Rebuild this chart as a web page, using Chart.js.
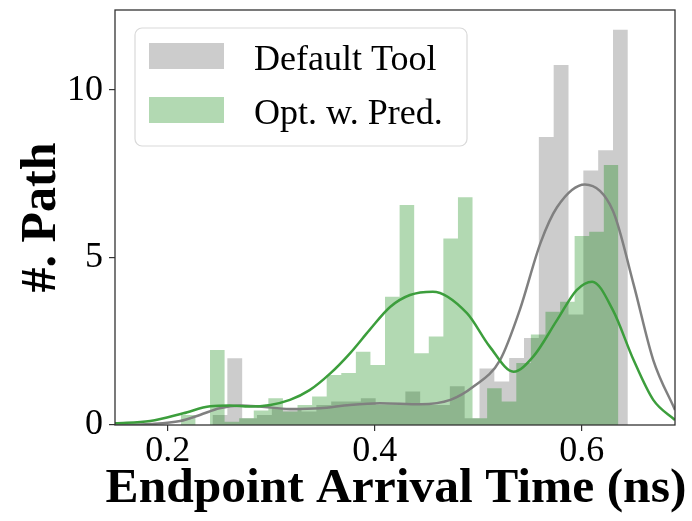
<!DOCTYPE html>
<html>
<head>
<meta charset="utf-8">
<script src="https://cdn.jsdelivr.net/npm/chart.js@4.4.1/dist/chart.umd.min.js"></script>
<style>
  html, body { margin: 0; padding: 0; background: #fff; }
  #wrap { width: 692px; height: 521px; }
</style>
</head>
<body>
<div id="wrap"><canvas id="chart" width="692" height="521"></canvas></div>
<script>
// histogram bins (ns) and bar heights
const defaultStart = 0.2432;
const defaultWidth = 0.01433;
const defaultHeights = [0.3, 1.99, 0.2, 0.3, 0.5, 0.5, 0.4, 0.6, 0.7, 0.7, 0.8, 0.6, 0.6, 1.0,
  0.6, 0.6, 1.16, 0.2, 1.69, 1.3, 2.0, 2.6, 8.6, 10.75, 3.3, 7.6, 8.2, 11.8];

const predStart = 0.2126;
const predWidth = 0.01409;
const predHeights = [0.3, 0, 2.24, 0.1, 0.2, 0.43, 0.8, 0.4, 0.6, 0.85, 1.49, 1.55, 2.19, 1.79, 3.83, 6.57,
  2.14, 2.64, 5.57, 6.8, 0.2, 1.1, 0.7, 1.85, 2.7, 3.38, 3.68, 5.64, 5.77, 7.76];

// kde curves
const defaultKdeX = [0.149, 0.183, 0.212, 0.231, 0.250, 0.270, 0.289, 0.318, 0.347, 0.376, 0.405,
  0.444, 0.473, 0.495, 0.521, 0.540, 0.560, 0.576, 0.603, 0.630, 0.650, 0.669, 0.690];
const defaultKdeY = [0.0, 0.03, 0.12, 0.3, 0.5, 0.58, 0.55, 0.48, 0.5, 0.6, 0.65,
  0.62, 0.75, 1.14, 1.94, 3.43, 5.43, 6.5, 7.18, 6.4, 4.2, 1.94, 0.45];

const predKdeX = [0.149, 0.183, 0.215, 0.241, 0.260, 0.279, 0.299, 0.318, 0.337, 0.357,
  0.376, 0.395, 0.415, 0.434, 0.456, 0.489, 0.511, 0.534, 0.553, 0.576, 0.595, 0.610, 0.630,
  0.650, 0.669, 0.690];
const predKdeY = [0.05, 0.12, 0.35, 0.56, 0.58, 0.55, 0.6, 0.75, 1.04, 1.54,
  2.14, 2.84, 3.53, 3.88, 3.98, 3.34, 2.34, 1.59, 2.04, 3.13, 4.03, 4.28, 3.43,
  1.94, 0.75, 0.15];

const xTicks = [0.2, 0.4, 0.6];
const yTicks = [0, 5, 10];
const seriesNames = ["Default Tool", "Opt. w. Pred."];
const xTitle = "Endpoint Arrival Time (ns)";
const yTitle = "#. Path";

const SERIF = "'Liberation Serif', 'Times New Roman', serif";

// turn bins into step points for a filled stepped line
function histPoints(start, width, heights) {
  const pts = [{ x: start, y: 0 }];
  heights.forEach((h, i) => pts.push({ x: start + (i + 1) * width, y: h }));
  return pts;
}

function curvePoints(xs, ys) {
  return xs.map((x, i) => ({ x: x, y: ys[i] }));
}

const frameAndLegend = {
  id: "frameAndLegend",
  afterDatasetsDraw(chart) {
    const a = chart.chartArea;
    const ctx = chart.ctx;
    ctx.save();
    ctx.strokeStyle = "#333";
    ctx.lineWidth = 1.3;
    ctx.strokeRect(a.left, a.top, a.right - a.left, a.bottom - a.top);
    ctx.restore();
  },
  afterDraw(chart) {
    const ctx = chart.ctx;
    const a = chart.chartArea;
    ctx.save();
    // x title, wider than the plot so drawn here instead of by the scale
    ctx.font = "bold 49.5px " + SERIF;
    ctx.fillStyle = "#000";
    ctx.textAlign = "center";
    ctx.textBaseline = "alphabetic";
    ctx.fillText(xTitle, (a.left + a.right) / 2 + 1, 502);

    // legend frame
    const bx = 135, by = 28, bw = 332, bh = 118, r = 7;
    ctx.beginPath();
    ctx.roundRect(bx, by, bw, bh, r);
    ctx.fillStyle = "rgba(255,255,255,0.8)";
    ctx.fill();
    ctx.strokeStyle = "#d9d9d9";
    ctx.lineWidth = 1.2;
    ctx.stroke();

    ctx.font = "36px " + SERIF;
    ctx.textAlign = "left";
    seriesNames.forEach((name, i) => {
      const d = chart.data.datasets.find(ds => ds.label === name);
      const y = 43 + i * 54;
      ctx.fillStyle = d.backgroundColor;
      ctx.fillRect(149, y, 75, 26);
      ctx.fillStyle = "#000";
      ctx.fillText(d.label, 254, y + 27);
    });
    ctx.restore();
  }
};

new Chart(document.getElementById("chart"), {
  type: "line",
  data: {
    datasets: [
      {
        label: seriesNames[1] + " kde",
        data: curvePoints(predKdeX, predKdeY),
        borderColor: "#3c9e3c",
        borderWidth: 2.5,
        pointRadius: 0,
        fill: false,
        cubicInterpolationMode: "monotone",
        order: 0
      },
      {
        label: seriesNames[0] + " kde",
        data: curvePoints(defaultKdeX, defaultKdeY),
        borderColor: "#808080",
        borderWidth: 2.5,
        pointRadius: 0,
        fill: false,
        cubicInterpolationMode: "monotone",
        order: 1
      },
      {
        label: seriesNames[1],
        data: histPoints(predStart, predWidth, predHeights),
        stepped: "after",
        backgroundColor: "rgba(0,128,0,0.3)",
        borderWidth: 0,
        borderColor: "rgba(0,0,0,0)",
        pointRadius: 0,
        fill: "origin",
        order: 2
      },
      {
        label: seriesNames[0],
        data: histPoints(defaultStart, defaultWidth, defaultHeights),
        stepped: "after",
        backgroundColor: "rgba(128,128,128,0.4)",
        borderWidth: 0,
        borderColor: "rgba(0,0,0,0)",
        pointRadius: 0,
        fill: "origin",
        order: 3
      }
    ]
  },
  options: {
    responsive: false,
    devicePixelRatio: 1,
    animation: false,
    layout: { padding: { top: 10, right: 17, left: 0, bottom: 0 } },
    plugins: {
      legend: { display: false },
      tooltip: { enabled: false }
    },
    scales: {
      x: {
        type: "linear",
        min: 0.149,
        max: 0.69,
        afterFit: s => { s.height = 96; s.paddingLeft = 0; s.paddingRight = 0; },
        afterBuildTicks: s => { s.ticks = xTicks.map(v => ({ value: v })); },
        grid: { drawOnChartArea: false, tickLength: 6, color: "#333", lineWidth: 1.2 },
        border: { display: false },
        ticks: {
          color: "#000",
          padding: 3,
          font: { family: SERIF, size: 36, lineHeight: 1 },
          callback: v => v.toFixed(1)
        },
        title: { display: false }
      },
      y: {
        min: 0,
        max: 12.39,
        afterFit: s => { s.width = 115; s.paddingTop = 0; s.paddingBottom = 0; },
        afterBuildTicks: s => { s.ticks = yTicks.map(v => ({ value: v })); },
        grid: { drawOnChartArea: false, tickLength: 6, color: "#333", lineWidth: 1.2 },
        border: { display: false },
        ticks: {
          color: "#000",
          padding: 6,
          font: { family: SERIF, size: 36 },
          callback: v => String(v)
        },
        title: {
          display: true,
          text: yTitle,
          color: "#000",
          font: { family: SERIF, size: 50, weight: "bold" },
          padding: { top: 12, bottom: 0 }
        }
      }
    }
  },
  plugins: [frameAndLegend]
});
</script>
</body>
</html>
